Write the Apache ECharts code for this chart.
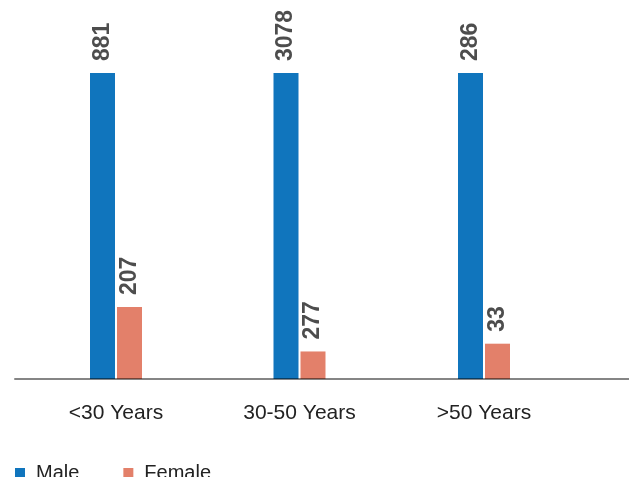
<!DOCTYPE html>
<html>
<head>
<meta charset="utf-8">
<script src="https://cdn.jsdelivr.net/npm/echarts@6/dist/echarts.min.js"></script>
<style>
  html, body { margin: 0; padding: 0; background: #ffffff; }
  #chart { width: 629px; height: 477px; }
</style>
</head>
<body>
<div id="chart"></div>
<script>
// Employees by age band and gender
const categories = ['<30 Years', '30-50 Years', '>50 Years'];
const male = [881, 3078, 286];
const female = [207, 277, 33];
const seriesNames = ['Male', 'Female'];
const colors = ['#1075BD', '#E3806A'];

const FONT = '"Liberation Sans", Arial, Helvetica, sans-serif';

// Each age band gets its own panel, scaled to the larger of its two values
const groupCenters = [116, 299.5, 484];
const panelWidth = 184;
const plotTop = 73;
const plotBottom = 98;

const grids = [];
const xAxes = [];
const yAxes = [];
const series = [];

const valueLabel = {
  show: true,
  position: 'top',
  distance: 12,
  rotate: 90,
  align: 'left',
  verticalAlign: 'middle',
  color: '#4d4d4d',
  fontFamily: FONT,
  fontWeight: 'bold',
  fontSize: 23
};

categories.forEach((cat, i) => {
  grids.push({
    left: groupCenters[i] - panelWidth / 2,
    width: panelWidth,
    top: plotTop,
    bottom: plotBottom,
    containLabel: false
  });
  xAxes.push({
    type: 'category',
    gridIndex: i,
    data: [cat],
    axisLine: { show: false },
    axisTick: { show: false },
    axisLabel: {
      margin: 24,
      color: '#222222',
      fontFamily: FONT,
      fontSize: 21
    }
  });
  yAxes.push({
    type: 'value',
    gridIndex: i,
    min: 0,
    max: Math.max(male[i], female[i]),
    show: false,
    splitLine: { show: false }
  });
  [male, female].forEach((vals, s) => {
    series.push({
      name: seriesNames[s],
      type: 'bar',
      xAxisIndex: i,
      yAxisIndex: i,
      data: [vals[i]],
      barWidth: 25,
      barGap: '8%',
      itemStyle: { color: colors[s] },
      label: valueLabel
    });
  });
});

// Full-width baseline drawn over the bars
grids.push({ left: 15, right: 0, top: plotTop, bottom: plotBottom });
xAxes.push({
  type: 'value',
  gridIndex: 3,
  min: 0,
  max: 1,
  z: 10,
  axisLine: { show: true, lineStyle: { color: 'rgba(0,0,0,0.48)', width: 2 } },
  axisTick: { show: false },
  axisLabel: { show: false },
  splitLine: { show: false }
});
yAxes.push({ type: 'value', gridIndex: 3, show: false, splitLine: { show: false } });

const chart = echarts.init(document.getElementById('chart'), null, { renderer: 'canvas' });
chart.setOption({
  backgroundColor: '#ffffff',
  animation: false,
  color: colors,
  legend: {
    data: seriesNames,
    left: 15,
    top: 463,
    padding: 0,
    icon: 'rect',
    itemWidth: 10,
    itemHeight: 10,
    itemGap: 44,
    textStyle: {
      color: '#222222',
      fontFamily: FONT,
      fontSize: 20,
      padding: [0, 0, 0, 6]
    }
  },
  grid: grids,
  xAxis: xAxes,
  yAxis: yAxes,
  series: series
});
</script>
</body>
</html>
